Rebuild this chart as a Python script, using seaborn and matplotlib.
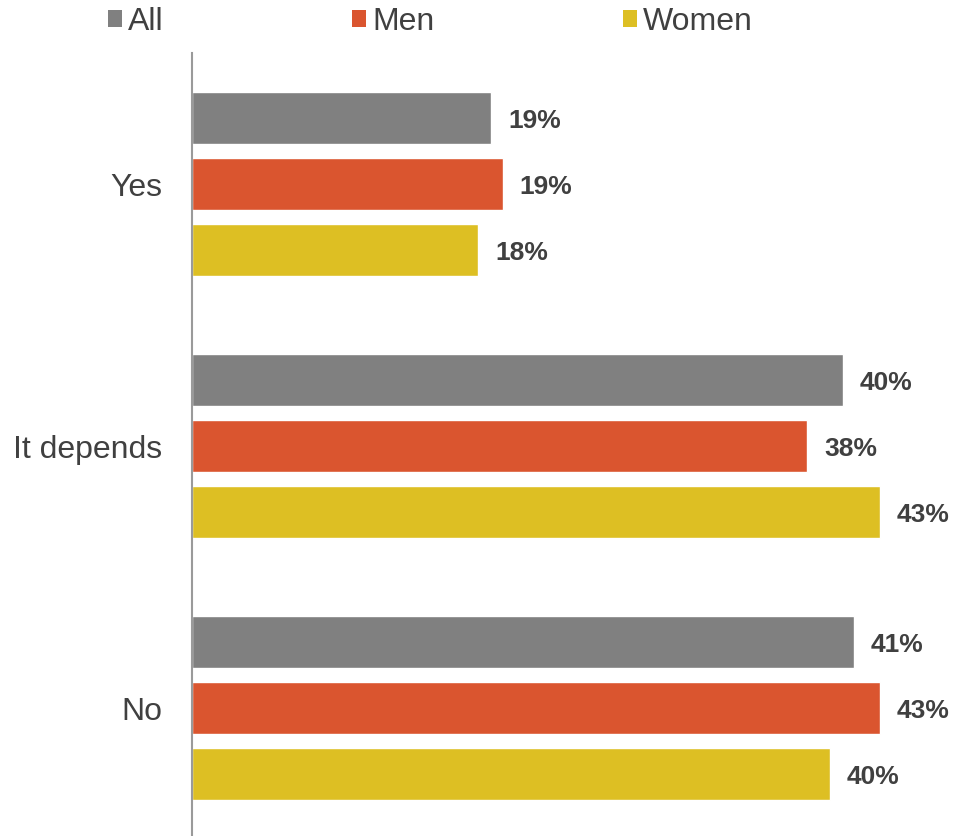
import matplotlib
matplotlib.use("Agg")
import matplotlib.pyplot as plt
from matplotlib.patches import Patch
import seaborn as sns
import pandas as pd

# ---- data ----
answers = ["Yes", "It depends", "No"]
groups = ["All", "Men", "Women"]
all_vals = [18.6, 40.4, 41.1]
men_vals = [19.3, 38.2, 42.7]
women_vals = [17.8, 42.7, 39.6]

colors = ["#808080", "#DA552F", "#DDBF23"]
text_color = "#404040"

rows = []
for g, vals in zip(groups, [all_vals, men_vals, women_vals]):
    for a, v in zip(answers, vals):
        rows.append({"answer": a, "group": g, "value": v})
df = pd.DataFrame(rows)

sns.set_theme(style="white")
plt.rcParams["font.family"] = ["Liberation Sans", "DejaVu Sans"]

W, H = 956, 836
fig = plt.figure(figsize=(W / 100, H / 100), dpi=100)
ax_left = 191.5
ax_top = 53
ax_bottom = 839
ax = fig.add_axes([ax_left / W, (H - ax_bottom) / H, (W - ax_left) / W, (ax_bottom - ax_top) / H])

sns.barplot(data=df, y="answer", x="value", hue="group", order=answers,
            hue_order=groups, palette=colors, orient="h", width=0.756,
            gap=0.21, saturation=1, legend=False, ax=ax, errorbar=None)

px_per_pct = 16.12
ax.set_xlim(0, (W - ax_left) / px_per_pct)
ax.set_ylim(2.5, -0.5)

for cont in ax.containers:
    texts = ax.bar_label(cont, fmt="%.0f%%", padding=12, fontsize=19,
                         fontweight="bold", color=text_color)
    for t in texts:
        t.xyann = (12, -2.5)

ax.set_xlabel("")
ax.set_ylabel("")
ax.set_xticks([])
ax.tick_params(axis="y", length=0, pad=21, labelsize=23, labelcolor=text_color)
for s in ["top", "right", "bottom"]:
    ax.spines[s].set_visible(False)
ax.spines["left"].set_color("#9a9a9a")
ax.spines["left"].set_linewidth(1.5)

handles = [Patch(facecolor=c, edgecolor="none", label=g) for g, c in zip(groups, colors)]
fig.legend(handles=handles, loc="center left", bbox_to_anchor=(108 / W, 1 - 22 / H),
           ncol=3, frameon=False, fontsize=23, handlelength=0.44, handleheight=0.44,
           handletextpad=0.19, columnspacing=5.9, borderpad=0, borderaxespad=0,
           labelcolor=text_color)

fig.savefig("out.png", dpi=100)
